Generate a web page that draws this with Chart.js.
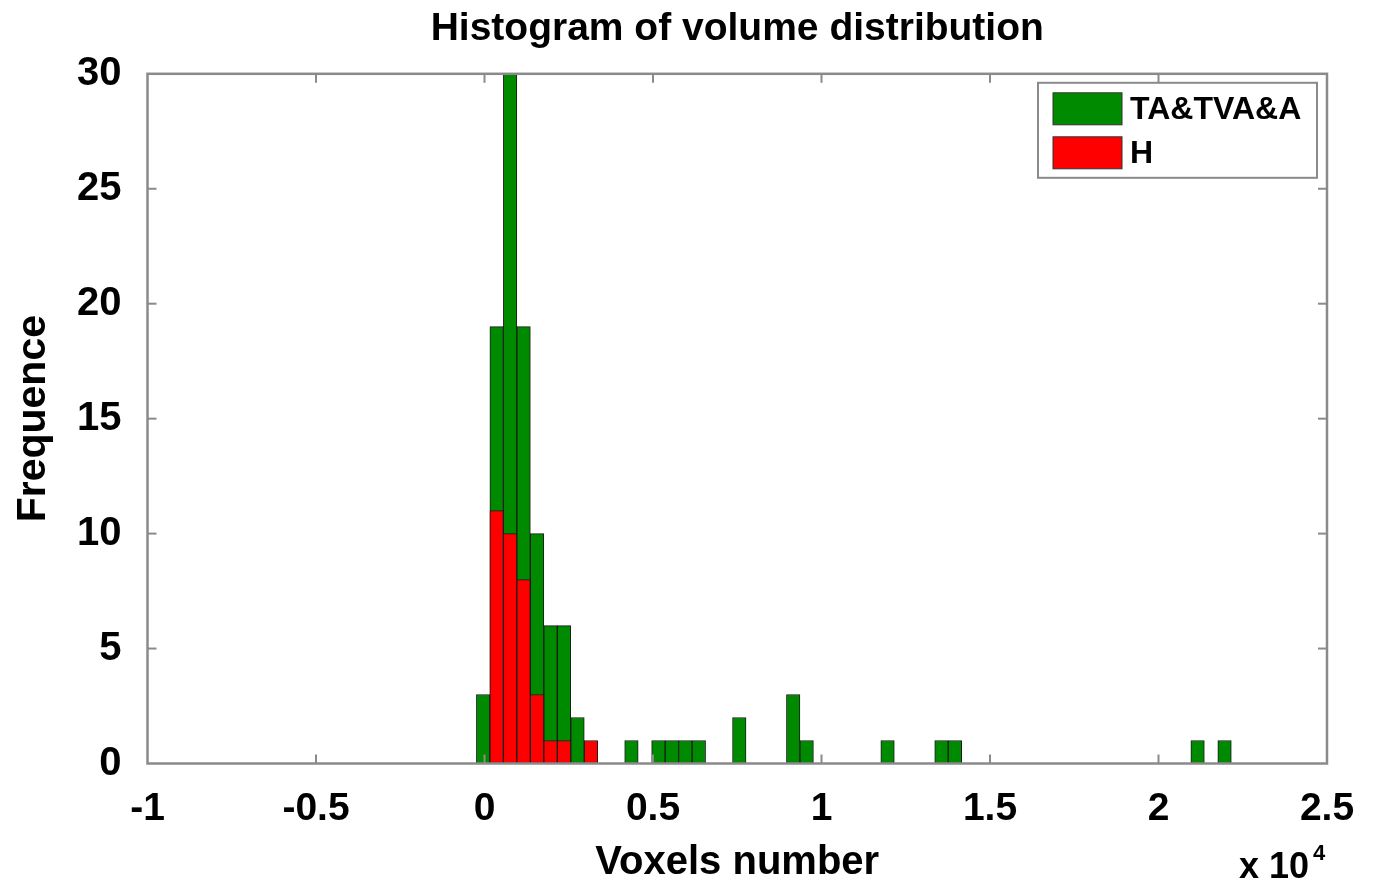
<!DOCTYPE html>
<html><head><meta charset="utf-8">
<script src="https://cdn.jsdelivr.net/npm/chart.js@4.4.1/dist/chart.umd.min.js"></script>
<style>html,body{margin:0;padding:0;background:#fff;} #wrap{width:1374px;height:890px;}</style>
</head><body><div id="wrap"><canvas id="c" width="1374" height="890"></canvas></div>
<script>
// ---- data ----
const chartTitle = 'Histogram of volume distribution';
const xAxisTitle = 'Voxels number';
const yAxisTitle = 'Frequence';
const xExponentBase = 'x 10';
const xExponent = '4';
const seriesNames = ['TA&TVA&A', 'H'];
const seriesColors = ['#008a00', '#ff0000'];
// bin centres in units of 10^4 voxels (non-empty bins only)
const tvaBinCenters = [-0.004, 0.036, 0.076, 0.116, 0.156, 0.196, 0.236, 0.276, 0.436, 0.516, 0.556, 0.596, 0.636, 0.756, 0.916, 0.956, 1.196, 1.356, 1.396, 2.116, 2.196];
const tvaCounts     = [3, 19, 30, 19, 10, 6, 6, 2, 1, 1, 1, 1, 1, 2, 3, 1, 1, 1, 1, 1, 1];
const hBinCenters   = [0.036, 0.076, 0.116, 0.156, 0.196, 0.236, 0.316];
const hCounts       = [11, 10, 8, 3, 1, 1, 1];
const xMin = -1, xMax = 2.5, xStep = 0.5;
const yMin = 0, yMax = 30, yStep = 5;

const FONT = "'Liberation Sans', Arial, Helvetica, sans-serif";
Chart.defaults.font.family = FONT;
Chart.defaults.color = '#000';

function toPoints(xs, ys) { return xs.map((x, i) => ({x: x, y: ys[i]})); }

const framePlugin = {
  id: 'frame',
  afterDatasetsDraw(chart) {
    const {ctx, chartArea: a, scales: {x, y}} = chart;
    ctx.save();
    ctx.strokeStyle = '#8a8a8a';
    ctx.lineWidth = 2.5;
    ctx.strokeRect(a.left, a.top, a.right - a.left, a.bottom - a.top);
    ctx.lineWidth = 2;
    const L = 9;
    const seg = (x1, y1, x2, y2) => { ctx.beginPath(); ctx.moveTo(x1, y1); ctx.lineTo(x2, y2); ctx.stroke(); };
    x.ticks.forEach(t => {
      const px = x.getPixelForValue(t.value);
      if (px <= a.left + 2 || px >= a.right - 2) return;
      seg(px, a.bottom, px, a.bottom - L);
      seg(px, a.top, px, a.top + L);
    });
    y.ticks.forEach(t => {
      const py = y.getPixelForValue(t.value);
      if (py <= a.top + 2 || py >= a.bottom - 2) return;
      seg(a.left, py, a.left + L, py);
      seg(a.right, py, a.right - L, py);
    });
    ctx.restore();
  }
};

const legendPlugin = {
  id: 'boxLegend',
  afterDraw(chart) {
    const {ctx, chartArea: a} = chart;
    const w = 279, h = 95;
    const left = a.right - 10 - w, top = a.top + 9;
    ctx.save();
    ctx.fillStyle = '#fff';
    ctx.fillRect(left, top, w, h);
    ctx.strokeStyle = '#8a8a8a';
    ctx.lineWidth = 2;
    ctx.strokeRect(left, top, w, h);
    ctx.font = 'bold 32px ' + FONT;
    ctx.textBaseline = 'middle';
    ctx.textAlign = 'left';
    chart.data.datasets.forEach((ds, i) => {
      const sy = top + 10 + i * 44;
      ctx.fillStyle = ds.backgroundColor;
      ctx.fillRect(left + 15, sy, 69, 32);
      ctx.strokeStyle = '#333';
      ctx.lineWidth = 1;
      ctx.strokeRect(left + 15, sy, 69, 32);
      ctx.fillStyle = '#000';
      ctx.fillText(ds.label, left + 92, sy + 17);
    });
    ctx.restore();
  }
};

const exponentPlugin = {
  id: 'exponent',
  afterDraw(chart) {
    const {ctx, chartArea: a} = chart;
    ctx.save();
    ctx.fillStyle = '#000';
    ctx.textBaseline = 'alphabetic';
    ctx.textAlign = 'right';
    ctx.font = 'bold 36px ' + FONT;
    const xr = a.right - 18;
    ctx.fillText(xExponentBase, xr, 878);
    ctx.textAlign = 'left';
    ctx.font = 'bold 22px ' + FONT;
    ctx.fillText(xExponent, xr + 4, 860);
    ctx.restore();
  }
};

new Chart(document.getElementById('c'), {
  type: 'bar',
  data: {
    datasets: [
      { label: seriesNames[0], data: toPoints(tvaBinCenters, tvaCounts), backgroundColor: seriesColors[0],
        borderColor: '#1a1a1a', borderWidth: 1, borderSkipped: false, grouped: false, order: 1,
        barPercentage: 1, categoryPercentage: 1 },
      { label: seriesNames[1], data: toPoints(hBinCenters, hCounts), backgroundColor: seriesColors[1],
        borderColor: '#1a1a1a', borderWidth: 1, borderSkipped: false, grouped: false, order: 0,
        barPercentage: 1, categoryPercentage: 1 }
    ]
  },
  options: {
    responsive: false,
    animation: false,
    layout: { padding: { left: 0, right: 47, top: 0, bottom: 0 } },
    plugins: {
      legend: { display: false },
      tooltip: { enabled: false },
      title: { display: true, text: chartTitle, fullSize: false, color: '#000',
        font: { size: 39, weight: 'bold' }, padding: { top: 6, bottom: 21 } }
    },
    scales: {
      x: {
        type: 'linear', min: xMin, max: xMax, offset: false,
        grid: { display: false, offset: false }, border: { display: false },
        ticks: { stepSize: xStep, font: { size: 39, weight: 'bold' }, color: '#000', padding: 14,
          maxRotation: 0, autoSkip: false,
          callback: (v) => String(Number(Number(v).toFixed(2))) },
        title: { display: true, text: xAxisTitle, color: '#000', font: { size: 40, weight: 'bold' },
          padding: { top: 0, bottom: 3 } },
        afterFit(s) { s.height = 126.5; }
      },
      y: {
        type: 'linear', min: yMin, max: yMax,
        grid: { display: false }, border: { display: false },
        ticks: { stepSize: yStep, font: { size: 40, weight: 'bold' }, color: '#000', padding: 18 },
        title: { display: true, text: yAxisTitle, color: '#000', font: { size: 41, weight: 'bold' },
          padding: { top: 9, bottom: 0 } },
        afterFit(s) { s.width = 147.5; }
      }
    }
  },
  plugins: [framePlugin, legendPlugin, exponentPlugin]
});
</script>
</body></html>
